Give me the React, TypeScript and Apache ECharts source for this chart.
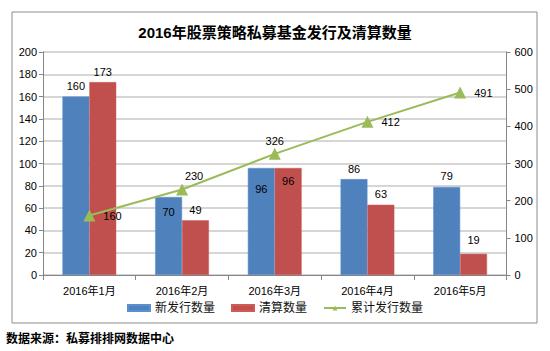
import React, { useEffect, useRef } from "react";
import * as echarts from "echarts";

const categories = ["2016年1月", "2016年2月", "2016年3月", "2016年4月", "2016年5月"];
const newIssued = [160, 70, 96, 86, 79];
const liquidated = [173, 49, 96, 63, 19];
const cumulative = [160, 230, 326, 412, 491];
const newLabelPos = ["top", "insideTop", "insideTop", "top", "top"];
const newLabelDist = [5, 10, 16, 5, 5];
const liqLabelPos = ["top", "top", "insideTop", "top", "top"];
const liqLabelDist = [5, 5, 8, 5, 8];
const cumLabelPos = ["right", "top", "top", "right", "right"];

const FONT = "'Liberation Sans', 'Noto Sans CJK SC', sans-serif";

export default function App() {
  const ref = useRef<HTMLDivElement>(null);
  useEffect(() => {
    const chart = echarts.init(ref.current!, null, { renderer: "svg" });
    chart.setOption({
      animation: false,
      backgroundColor: "#ffffff",
      textStyle: { fontFamily: FONT },
      title: {
        text: "2016年股票策略私募基金发行及清算数量",
        left: "center",
        top: 20,
        textStyle: { fontSize: 15, fontWeight: "bold", color: "#000", fontFamily: FONT },
      },
      graphic: [
        {
          type: "rect",
          shape: { x: 12, y: 12, width: 525, height: 311 },
          style: { fill: "none", stroke: "#8c8c8c", lineWidth: 1 },
          silent: true,
        },
        {
          type: "text",
          x: 6,
          y: 333,
          style: { text: "数据来源：私募排排网数据中心", fontSize: 12, fontWeight: "bold", fill: "#000", fontFamily: FONT },
        },
      ],
      legend: {
        top: 302,
        left: "center",
        padding: 0,
        itemWidth: 22,
        itemHeight: 6,
        itemGap: 16,
        textStyle: { fontSize: 12, color: "#111", fontFamily: FONT },
        data: [
          { name: "新发行数量", icon: "rect" },
          { name: "清算数量", icon: "rect" },
          { name: "累计发行数量" },
        ],
      },
      grid: { left: 43, right: 43.5, top: 52, bottom: 76, containLabel: false },
      xAxis: {
        type: "category",
        data: categories,
        axisLine: { lineStyle: { color: "#868686" } },
        axisTick: { show: true, alignWithLabel: false, length: 5, lineStyle: { color: "#868686" } },
        axisLabel: { fontSize: 11, color: "#000", margin: 10, fontFamily: FONT },
      },
      yAxis: [
        {
          type: "value",
          min: 0,
          max: 200,
          interval: 20,
          axisLine: { show: true, lineStyle: { color: "#868686" } },
          axisTick: { show: true, length: 4, lineStyle: { color: "#868686" } },
          axisLabel: { fontSize: 11, color: "#000", margin: 6, fontFamily: FONT },
          splitLine: { lineStyle: { color: "#c8c8c8", width: 1.5 } },
        },
        {
          type: "value",
          min: 0,
          max: 600,
          interval: 100,
          position: "right",
          axisLine: { show: true, lineStyle: { color: "#868686" } },
          axisTick: { show: true, length: 4, lineStyle: { color: "#868686" } },
          axisLabel: { fontSize: 11, color: "#000", margin: 8, fontFamily: FONT },
          splitLine: { show: false },
        },
      ],
      series: [
        {
          name: "新发行数量",
          type: "bar",
          barGap: "0%",
          barCategoryGap: "42%",
          itemStyle: { color: "#4F81BD", borderColor: "#5b8fd0", borderWidth: 0.5 },
          data: newIssued.map((v, i) => ({
            value: v,
            label: { show: true, position: newLabelPos[i], distance: newLabelDist[i], fontSize: 11, color: "#000" },
          })),
        },
        {
          name: "清算数量",
          type: "bar",
          itemStyle: { color: "#C0504D", borderColor: "#d05a57", borderWidth: 0.5 },
          data: liquidated.map((v, i) => ({
            value: v,
            label: { show: true, position: liqLabelPos[i], distance: liqLabelDist[i], fontSize: 11, color: "#000" },
          })),
        },
        {
          name: "累计发行数量",
          type: "line",
          yAxisIndex: 1,
          symbol: "triangle",
          symbolSize: 12,
          lineStyle: { color: "#9BBB59", width: 2 },
          itemStyle: { color: "#9BBB59" },
          data: cumulative.map((v, i) => ({
            value: v,
            label:
              i === 1
                ? { show: true, position: "top", distance: 2, offset: [12, 0], fontSize: 11, color: "#000" }
                : i === 2
                ? { show: true, position: "top", distance: 1, fontSize: 11, color: "#000" }
                : { show: true, position: cumLabelPos[i], distance: 8, fontSize: 11, color: "#000" },
          })),
        },
      ],
    });
    return () => chart.dispose();
  }, []);
  return (
    <div
      ref={ref}
      style={{ position: "fixed", left: 0, top: 0, width: 550, height: 351, background: "#fff" }}
    />
  );
}
